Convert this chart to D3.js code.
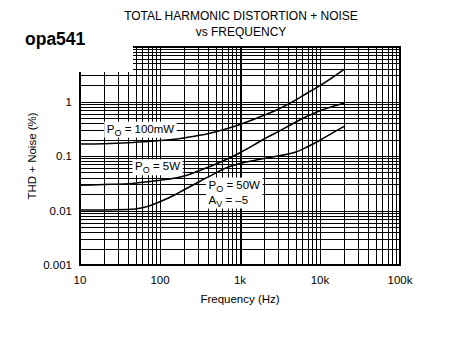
<!DOCTYPE html>
<html>
<head>
<meta charset="utf-8">
<script src="https://cdn.jsdelivr.net/npm/d3@7"></script>
<style>
  body { margin: 0; background: #fff; }
  text { font-family: "Liberation Sans", Arial, sans-serif; fill: #000; }
</style>
</head>
<body>
<svg id="chart" width="473" height="340"></svg>
<script>
// Axis ticks
const freqTicks = [10, 100, 1000, 10000, 100000];
const freqTickLabels = ["10", "100", "1k", "10k", "100k"];
const thdTicks = [0.001, 0.01, 0.1, 1];
const thdTickLabels = ["0.001", "0.01", "0.1", "1"];

// THD+N (%) versus frequency (Hz) for each output level
const freq100mW = [10, 20, 40, 60, 100, 150, 200, 300, 420, 600, 1000, 2000, 3000, 5000, 7000, 10000, 14000, 20000];
const thd100mW  = [0.166, 0.168, 0.175, 0.182, 0.192, 0.202, 0.215, 0.237, 0.262, 0.30, 0.38, 0.56, 0.72, 1.07, 1.45, 1.95, 2.7, 3.9];

const freq5W = [10, 20, 40, 60, 100, 150, 200, 300, 400, 600, 1000, 1500, 2000, 3000, 5000, 7000, 10000, 14000, 20000];
const thd5W  = [0.029, 0.030, 0.031, 0.033, 0.036, 0.039, 0.043, 0.053, 0.062, 0.080, 0.115, 0.16, 0.205, 0.28, 0.42, 0.54, 0.68, 0.80, 0.93];

const freq50W = [10, 20, 40, 60, 100, 150, 200, 300, 450, 700, 1000, 1500, 2000, 3000, 5000, 7000, 10000, 14000, 20000];
const thd50W  = [0.0102, 0.0102, 0.0104, 0.0112, 0.0145, 0.019, 0.024, 0.033, 0.045, 0.062, 0.073, 0.083, 0.090, 0.100, 0.118, 0.148, 0.195, 0.26, 0.35];

// Curve annotations: anchor frequency / THD for the first text baseline
const annotFreq = [21.6, 48.7, 404];
const annotThd  = [0.268, 0.0547, 0.0253];
const annotLines = [
  [["P", "O", " = 100mW"]],
  [["P", "O", " = 5W"]],
  [["P", "O", " = 50W"], ["A", "V", " = \u20135"]]
];

const svg = d3.select("#chart");
const margin = { left: 80, top: 47, right: 73, bottom: 75 };
const W = 473 - margin.left - margin.right;
const H = 340 - margin.top - margin.bottom;

const x = d3.scaleLog().domain([10, 100000]).range([margin.left, margin.left + W]);
const y = d3.scaleLog().domain([0.001, 10]).range([margin.top + H, margin.top]);

const snap = v => Math.round(v) + 0.5;

// Grid lines at every 1..9 multiple of each decade
const grid = svg.append("g").attr("shape-rendering", "crispEdges");
const xGrid = [];
for (let e = 1; e < 5; e++) for (let m = 1; m < 10; m++) xGrid.push(m * Math.pow(10, e));
const yGrid = [];
for (let e = -3; e < 1; e++) for (let m = 1; m < 10; m++) yGrid.push(+(m * Math.pow(10, e)).toPrecision(3));

grid.selectAll("line.v").data(xGrid).join("line")
  .attr("x1", d => snap(x(d))).attr("x2", d => snap(x(d)))
  .attr("y1", y(10)).attr("y2", y(0.001))
  .attr("stroke", "#000")
  .attr("stroke-width", d => d === 1000 ? 2 : 1);

grid.selectAll("line.h").data(yGrid).join("line")
  .attr("y1", d => snap(y(d))).attr("y2", d => snap(y(d)))
  .attr("x1", x(10)).attr("x2", x(100000))
  .attr("stroke", "#000").attr("stroke-width", 1);

// Frame
svg.append("rect")
  .attr("x", x(10)).attr("y", y(10))
  .attr("width", W).attr("height", H)
  .attr("fill", "none").attr("stroke", "#000").attr("stroke-width", 2);

// Annotation boxes and labels
const annot = svg.append("g");
annotLines.forEach((lines, i) => {
  const g = annot.append("g");
  const bx = g.append("rect").attr("fill", "#fff");
  lines.forEach((parts, j) => {
    const t = g.append("text")
      .attr("x", x(annotFreq[i]))
      .attr("y", y(annotThd[i]) + j * 15)
      .attr("font-size", 11.5);
    t.append("tspan").text(parts[0]);
    t.append("tspan").attr("font-size", 9).attr("dy", 3).text(parts[1]);
    t.append("tspan").attr("dy", -3).text(parts[2]);
  });
  const bb = g.node().getBBox();
  bx.attr("x", bb.x - 2.5).attr("y", bb.y - 1)
    .attr("width", bb.width + 5).attr("height", bb.height + 1);
});

// Curves
const line = d3.line()
  .x(d => x(d[0])).y(d => y(d[1]))
  .curve(d3.curveMonotoneX);
const series = [
  [freq100mW, thd100mW],
  [freq5W, thd5W],
  [freq50W, thd50W]
];
svg.append("g").selectAll("path").data(series).join("path")
  .attr("d", s => line(s[0].map((f, k) => [f, s[1][k]])))
  .attr("fill", "none").attr("stroke", "#000").attr("stroke-width", 1.6);

// Cleared area for the part label in the top-left corner
svg.append("rect").attr("x", 0).attr("y", 0).attr("width", 133).attr("height", 72).attr("fill", "#fff");

svg.append("text").attr("x", 25).attr("y", 45)
  .attr("font-size", 17.5).attr("font-weight", "bold").text("opa541");

// Titles
svg.append("text").attr("x", 241).attr("y", 20).attr("text-anchor", "middle")
  .attr("font-size", 12).text("TOTAL HARMONIC DISTORTION + NOISE");
svg.append("text").attr("x", 241).attr("y", 35.5).attr("text-anchor", "middle")
  .attr("font-size", 12).text("vs FREQUENCY");

// Tick labels
svg.append("g").selectAll("text").data(freqTicks).join("text")
  .attr("x", d => x(d)).attr("y", y(0.001) + 19)
  .attr("text-anchor", "middle").attr("font-size", 11.5)
  .text((d, i) => freqTickLabels[i]);

svg.append("g").selectAll("text").data(thdTicks).join("text")
  .attr("x", x(10) - 8).attr("y", d => y(d))
  .attr("dy", "0.35em")
  .attr("text-anchor", "end").attr("font-size", 11.5)
  .text((d, i) => thdTickLabels[i]);

// Axis titles
svg.append("text").attr("x", 240).attr("y", 303).attr("text-anchor", "middle")
  .attr("font-size", 11.5).text("Frequency (Hz)");
svg.append("text")
  .attr("transform", `translate(36,${(y(0.001) + y(10)) / 2}) rotate(-90)`)
  .attr("text-anchor", "middle").attr("font-size", 11.5)
  .text("THD + Noise (%)");
</script>
</body>
</html>
